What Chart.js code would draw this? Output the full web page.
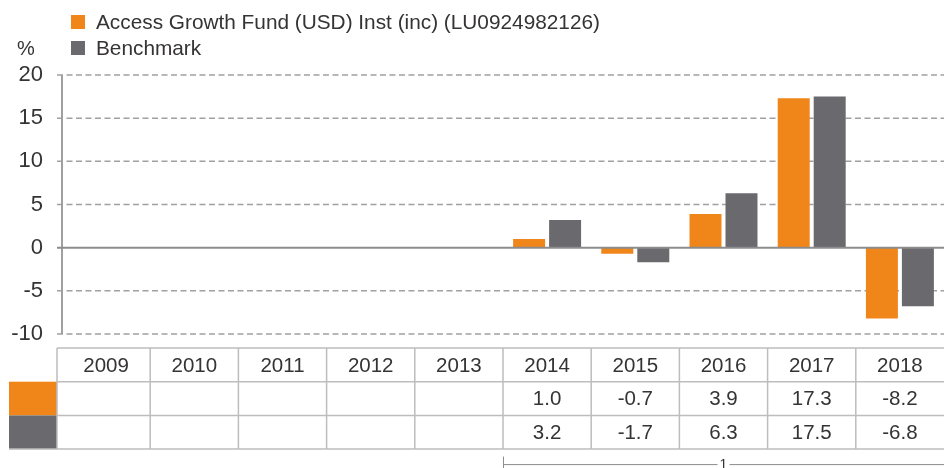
<!DOCTYPE html>
<html>
<head>
<meta charset="utf-8">
<script src="https://cdn.jsdelivr.net/npm/chart.js@4/dist/chart.umd.min.js"></script>
<style>
  html, body { margin: 0; padding: 0; background: #fff; }
  #wrap { width: 944px; height: 468px; }
</style>
</head>
<body>
<div id="wrap"><canvas id="perfChart" width="944" height="468"></canvas></div>
<script>
// calendar year returns, %
const years = ['2009', '2010', '2011', '2012', '2013', '2014', '2015', '2016', '2017', '2018'];
const fundLabel = 'Access Growth Fund (USD) Inst (inc) (LU0924982126)';
const benchLabel = 'Benchmark';
const fundReturns = [null, null, null, null, null, 1.0, -0.7, 3.9, 17.3, -8.2];
const benchReturns = [null, null, null, null, null, 3.2, -1.7, 6.3, 17.5, -6.8];
const yMin = -10;
const yMax = 20;
const yStep = 5;
const unitLabel = '%';
const periodNote = '1';

const FONT = '"Liberation Sans", Arial, sans-serif';
const TEXT = '#353334';
const ORANGE = '#f0851a';
const GREY = '#6a696e';
const LINE = '#a0a0a0';

// dashed grid + y axis line behind the bars, solid zero line on top
const gridPlugin = {
    id: 'gridPlugin',
    beforeDatasetsDraw(chart) {
        const { ctx, chartArea, scales: { y } } = chart;
        ctx.save();
        ctx.strokeStyle = LINE;
        ctx.lineWidth = 1.5;
        ctx.setLineDash([6, 3.5]);
        y.ticks.forEach(t => {
            if (t.value === 0) return;
            const py = y.getPixelForValue(t.value);
            ctx.beginPath();
            ctx.moveTo(chartArea.left - 5, py);
            ctx.lineTo(chartArea.right, py);
            ctx.stroke();
        });
        ctx.setLineDash([]);
        ctx.lineWidth = 2;
        ctx.beginPath();
        ctx.moveTo(chartArea.left, chartArea.top);
        ctx.lineTo(chartArea.left, chartArea.bottom);
        ctx.stroke();
        ctx.restore();
    },
    afterDatasetsDraw(chart) {
        const { ctx, chartArea, scales: { y } } = chart;
        const py = y.getPixelForValue(0);
        ctx.save();
        ctx.strokeStyle = '#8c8c8c';
        ctx.lineWidth = 2;
        ctx.beginPath();
        ctx.moveTo(chartArea.left - 5, py);
        ctx.lineTo(chartArea.right, py);
        ctx.stroke();
        ctx.restore();
    }
};

// legend stacked top-left, plus the % unit
const legendPlugin = {
    id: 'legendPlugin',
    afterDraw(chart) {
        const { ctx } = chart;
        ctx.save();
        ctx.font = '20.8px ' + FONT;
        ctx.textBaseline = 'middle';
        chart.data.datasets.forEach((ds, i) => {
            const cy = 22 + i * 26;
            ctx.fillStyle = ds.backgroundColor;
            ctx.fillRect(71, cy - 7, 14, 14);
            ctx.fillStyle = TEXT;
            ctx.fillText(ds.label, 96, cy + 1);
        });
        ctx.font = '20px ' + FONT;
        ctx.fillText(unitLabel, 17, 49);
        ctx.restore();
    }
};

// data table under the chart, columns taken from the x scale
const tablePlugin = {
    id: 'tablePlugin',
    afterDraw(chart) {
        const { ctx, chartArea, scales: { x } } = chart;
        const colW = x.width / years.length;
        const left = chartArea.left - 5;
        const right = chartArea.right;
        const top = chartArea.bottom + 14;
        const rowH = 33.7;
        const rows = [fundReturns, benchReturns];
        const colors = [ORANGE, GREY];
        const swatchL = 9;

        ctx.save();
        rows.forEach((r, i) => {
            ctx.fillStyle = colors[i];
            ctx.fillRect(swatchL, top + rowH * (i + 1), left - swatchL, rowH);
        });

        ctx.strokeStyle = '#bdbdbd';
        ctx.lineWidth = 1.5;
        ctx.beginPath();
        ctx.moveTo(left, top); ctx.lineTo(right, top);
        ctx.moveTo(left, top + rowH); ctx.lineTo(right, top + rowH);
        ctx.moveTo(left, top + rowH * 2); ctx.lineTo(right, top + rowH * 2);
        ctx.moveTo(swatchL, top + rowH * 3); ctx.lineTo(right, top + rowH * 3);
        years.forEach((yr, i) => {
            const ex = i === 0 ? left : x.getPixelForValue(i) - colW / 2;
            ctx.moveTo(ex, top); ctx.lineTo(ex, top + rowH * 3);
        });
        ctx.stroke();

        ctx.fillStyle = TEXT;
        ctx.font = '20.5px ' + FONT;
        ctx.textAlign = 'center';
        ctx.textBaseline = 'middle';
        years.forEach((yr, i) => {
            const cx = x.getPixelForValue(i);
            ctx.fillText(yr, cx, top + rowH / 2 + 1);
            rows.forEach((r, j) => {
                if (r[i] === null) return;
                ctx.fillText(r[i].toFixed(1), cx, top + rowH * (j + 1.5) + 1);
            });
        });

        // period bracket under the years that have data
        const first = fundReturns.findIndex(v => v !== null);
        const bx = x.getPixelForValue(first) - colW / 2;
        const by = top + rowH * 3 + 15.5;
        const mid = (bx + right) / 2;
        ctx.strokeStyle = '#8c8c8c';
        ctx.lineWidth = 1;
        ctx.beginPath();
        ctx.moveTo(bx + 0.5, by - 8); ctx.lineTo(bx + 0.5, by + 6);
        ctx.moveTo(bx, by); ctx.lineTo(mid - 6, by);
        ctx.moveTo(mid + 6, by); ctx.lineTo(right, by);
        ctx.stroke();
        ctx.font = '14px ' + FONT;
        ctx.fillText(periodNote, mid, by + 1);
        ctx.restore();
    }
};

new Chart(document.getElementById('perfChart'), {
    type: 'bar',
    data: {
        labels: years,
        datasets: [{
            label: fundLabel,
            data: fundReturns,
            backgroundColor: ORANGE,
            categoryPercentage: 0.816,
            barPercentage: 0.889
        }, {
            label: benchLabel,
            data: benchReturns,
            backgroundColor: GREY,
            categoryPercentage: 0.816,
            barPercentage: 0.889
        }]
    },
    options: {
        responsive: false,
        animation: false,
        devicePixelRatio: 1,
        layout: { padding: { left: 0, right: 0, top: 75, bottom: 134 } },
        plugins: {
            legend: { display: false },
            tooltip: { enabled: false }
        },
        scales: {
            x: { display: false },
            y: {
                min: yMin,
                max: yMax,
                grid: { display: false, drawTicks: false },
                border: { display: false },
                ticks: {
                    stepSize: yStep,
                    padding: 19,
                    color: TEXT,
                    font: { family: FONT, size: 22 }
                },
                afterFit(scale) { scale.width = 62; }
            }
        }
    },
    plugins: [gridPlugin, legendPlugin, tablePlugin]
});
</script>
</body>
</html>
